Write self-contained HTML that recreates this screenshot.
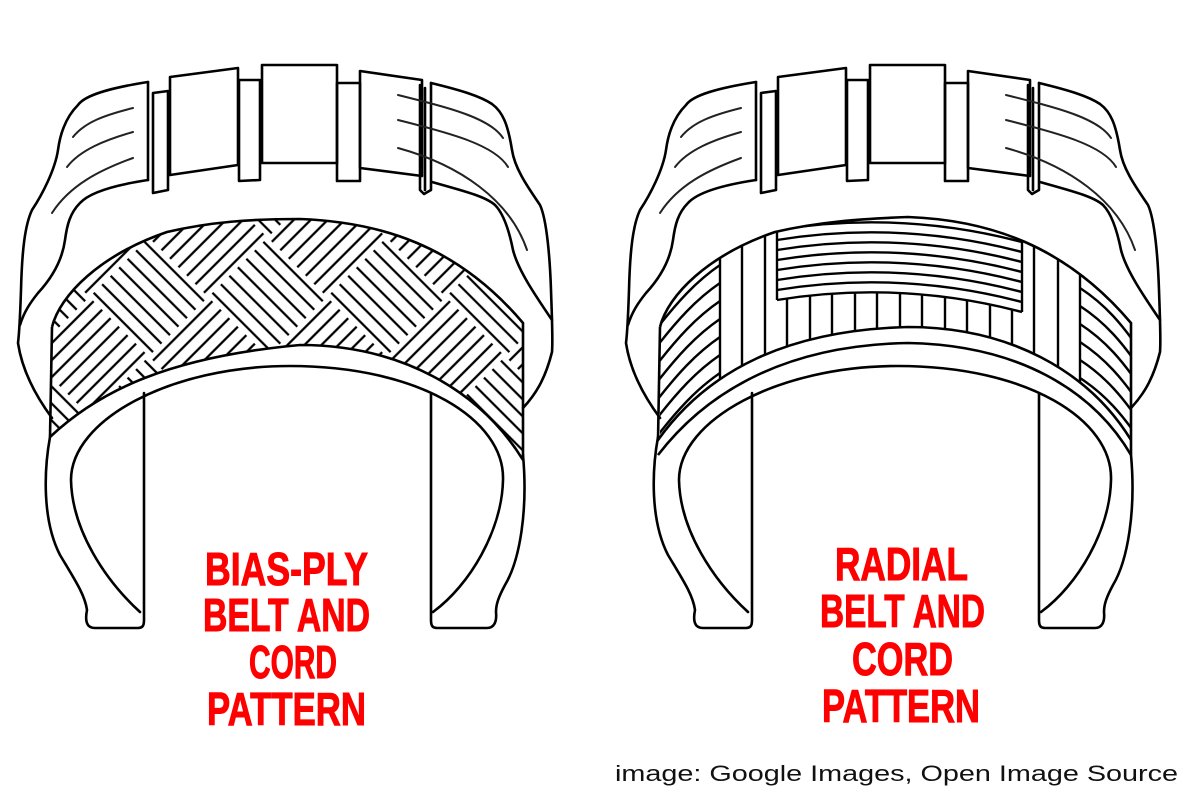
<!DOCTYPE html>
<html><head><meta charset="utf-8"><style>
html,body{margin:0;padding:0;background:#fff;}
svg{display:block;}
</style></head><body>
<svg width="1200" height="800" viewBox="0 0 1200 800" xmlns="http://www.w3.org/2000/svg">
<defs>
  <pattern id="bias" width="168" height="168" patternUnits="userSpaceOnUse" patternTransform="translate(30,0) rotate(45)">
    <g stroke="#000" stroke-width="2.3" fill="none">
      <path d="M0,6H84M0,18H84M0,30H84M0,42H84M0,54H84M0,66H84M0,78H84"/>
      <path d="M84,90H168M84,102H168M84,114H168M84,126H168M84,138H168M84,150H168M84,162H168"/>
      <path d="M90,0V84M102,0V84M114,0V84M126,0V84M138,0V84M150,0V84M162,0V84"/>
      <path d="M6,84V168M18,84V168M30,84V168M42,84V168M54,84V168M66,84V168M78,84V168"/>
    </g>
  </pattern>
  <clipPath id="beltL">
    <path d="M52,327 C60,295 100,255 167,232 C210,222 250,219 300,219 C380,222 457,245 523,323 L523,460 C480,390 400,345 300,345 C170,357 100,390 50,437 Z"/>
  </clipPath>
  <clipPath id="beltR">
    <path d="M52,327 C60,295 100,255 167,232 C210,222 250,219 300,217 C380,220 457,245 523,323 L523,440 C480,370 400,327 300,327 C180,330 100,370 52,440 Z"/>
  </clipPath>
  <clipPath id="underBox">
    <path d="M169,300 Q292,280 414,312 L414,420 L169,420 Z"/>
  </clipPath>
  <g id="base" fill="none" stroke="#000" stroke-width="2.6" stroke-linejoin="round" stroke-linecap="round">
    <path d="M148,82 C110,88 85,95 78,105 C65,118 60,135 58,150 C55,170 42,195 32,210 C25,225 22,250 21,290 C20,320 19,335 18,343 C22,370 35,395 52,418"/>
    <path d="M148,180 C115,185 90,192 80,203 C70,213 67,225 65,240 C62,262 50,280 38,293 C30,303 24,312 20,325"/>
    <path d="M148,82 L148,180"/>
    <g stroke="#222" stroke-width="2">
      <path d="M133,108 C105,115 85,122 73,137"/>
      <path d="M133,132 C105,140 80,150 67,167"/>
      <path d="M133,158 C100,170 70,185 52,213"/>
    </g>
    <polygon points="153,93 168,91 168,190 153,193"/>
    <polygon points="170,77 238,68 238,165 170,175"/>
    <polygon points="239,80 260,80 260,180 239,181"/>
    <polygon points="262,65 337,65 337,163 262,163"/>
    <polygon points="337,83 360,83 360,181 337,181"/>
    <polygon points="360,71 422,80 422,176 360,168"/>
    <path d="M420,85 L420,190 L424,194 L431,190 L431,83"/>
    <path d="M425,88 L425,190"/>
    <path d="M431,83 C460,90 480,96 492,104 C503,112 508,125 512,150 C515,170 530,190 540,205 C547,220 550,260 551,290 C552,320 553,340 552,352 C545,380 535,395 523,408"/>
    <path d="M432,182 C460,190 485,196 495,205 C505,215 510,235 513,250 C518,270 535,295 552,320"/>
    <g stroke="#222" stroke-width="2">
      <path d="M398,95 C450,108 490,118 503,138"/>
      <path d="M398,120 C450,133 495,145 508,167"/>
      <path d="M398,148 C460,165 510,200 527,250"/>
    </g>
    <path d="M50,437 C44,470 42,520 60,555 C75,580 85,595 87,610 C85,620 86,628 95,628 L138,628 C143,628 144,625 144,620 L144,393"/>
    <path d="M523,455 C528,510 520,560 505,585 C498,598 496,605 496,612 C497,622 494,628 487,628 L437,628 C432,628 431,625 431,620 L431,393"/>
    <path d="M140,612 C105,580 72,530 71,480 C71,420 170,366 290,366 C420,366 505,420 503,480 C502,530 470,585 433,612"/>
  </g>
</defs>

<use href="#base"/>
<g clip-path="url(#beltL)"><rect x="40" y="200" width="500" height="280" fill="url(#bias)"/></g>
<g fill="none" stroke="#000" stroke-width="2.6">
  <path d="M52,327 C60,295 100,255 167,232 C210,222 250,219 300,219 C380,222 457,245 523,323 L523,460"/>
  <path d="M52,327 L50,437 C100,390 170,357 300,345 C400,345 480,390 523,460"/>
</g>

<g transform="translate(608,0)">
  <use href="#base"/>
  <g clip-path="url(#beltR)" fill="none" stroke="#000" stroke-width="2.4">
    <path d="M169,300 Q292,280 414,312"/>
    <path d="M169,290 Q292,270 414,302M169,280 Q292,260 414,292M169,270 Q292,250 414,282M169,260 Q292,240 414,272M169,250 Q292,230 414,262M169,240 Q292,220 414,252M169,230 Q292,210 414,242"/>
    <path d="M169,200 V300 M414,200 V312"/>
    <path d="M112,200 V460 M134,200 V460 M157,200 V460 M426,200 V460 M450,200 V460 M472,200 V460"/>
    <g clip-path="url(#underBox)">
      <path d="M179,270V380M202,270V380M224,270V380M247,270V380M269,270V380M292,270V380M314,270V380M337,270V380M359,270V380M382,270V380M404,270V380"/>
    </g>
    <path d="M40,340 C70,300 90,280 112,265 M40,358 C70,318 90,298 112,283 M40,376 C70,336 90,316 112,301 M40,394 C70,354 90,334 112,319 M40,412 C70,372 90,352 112,337 M40,430 C70,390 90,370 112,355 M40,448 C70,408 90,388 112,373"/>
    <path d="M472,270 C495,285 515,305 540,345 M472,288 C495,303 515,323 540,363 M472,306 C495,321 515,341 540,381 M472,324 C495,339 515,359 540,399 M472,342 C495,357 515,377 540,417 M472,360 C495,375 515,395 540,435 M472,378 C495,393 515,413 540,453"/>
  </g>
  <g fill="none" stroke="#000" stroke-width="2.6">
    <path d="M52,327 C60,295 100,255 167,232 C210,222 250,219 300,217 C380,220 457,245 523,323 L523,455"/>
    <path d="M52,327 L50,440 C100,370 180,330 300,327 C400,327 480,370 523,440"/>
    <path d="M50,455 C100,390 180,345 300,343 C410,345 485,390 523,455"/>
  </g>
</g>

<g font-family="'Liberation Sans', Arial, sans-serif" font-weight="bold" font-size="46" fill="#f00" stroke="#f00" stroke-width="1">
  <text x="205" y="585" textLength="163" lengthAdjust="spacingAndGlyphs">BIAS-PLY</text>
  <text x="203" y="631" textLength="167" lengthAdjust="spacingAndGlyphs">BELT AND</text>
  <text x="249" y="678" textLength="88" lengthAdjust="spacingAndGlyphs">CORD</text>
  <text x="207" y="725" textLength="159" lengthAdjust="spacingAndGlyphs">PATTERN</text>
  <text x="835" y="580" textLength="133" lengthAdjust="spacingAndGlyphs">RADIAL</text>
  <text x="820" y="627" textLength="165" lengthAdjust="spacingAndGlyphs">BELT AND</text>
  <text x="852" y="675" textLength="101" lengthAdjust="spacingAndGlyphs">CORD</text>
  <text x="822" y="722" textLength="158" lengthAdjust="spacingAndGlyphs">PATTERN</text>
</g>
<text x="615" y="781" font-family="'Liberation Sans', Arial, sans-serif" font-size="22" fill="#111" textLength="563" lengthAdjust="spacingAndGlyphs">image: Google Images, Open Image Source</text>
</svg>
</body></html>
